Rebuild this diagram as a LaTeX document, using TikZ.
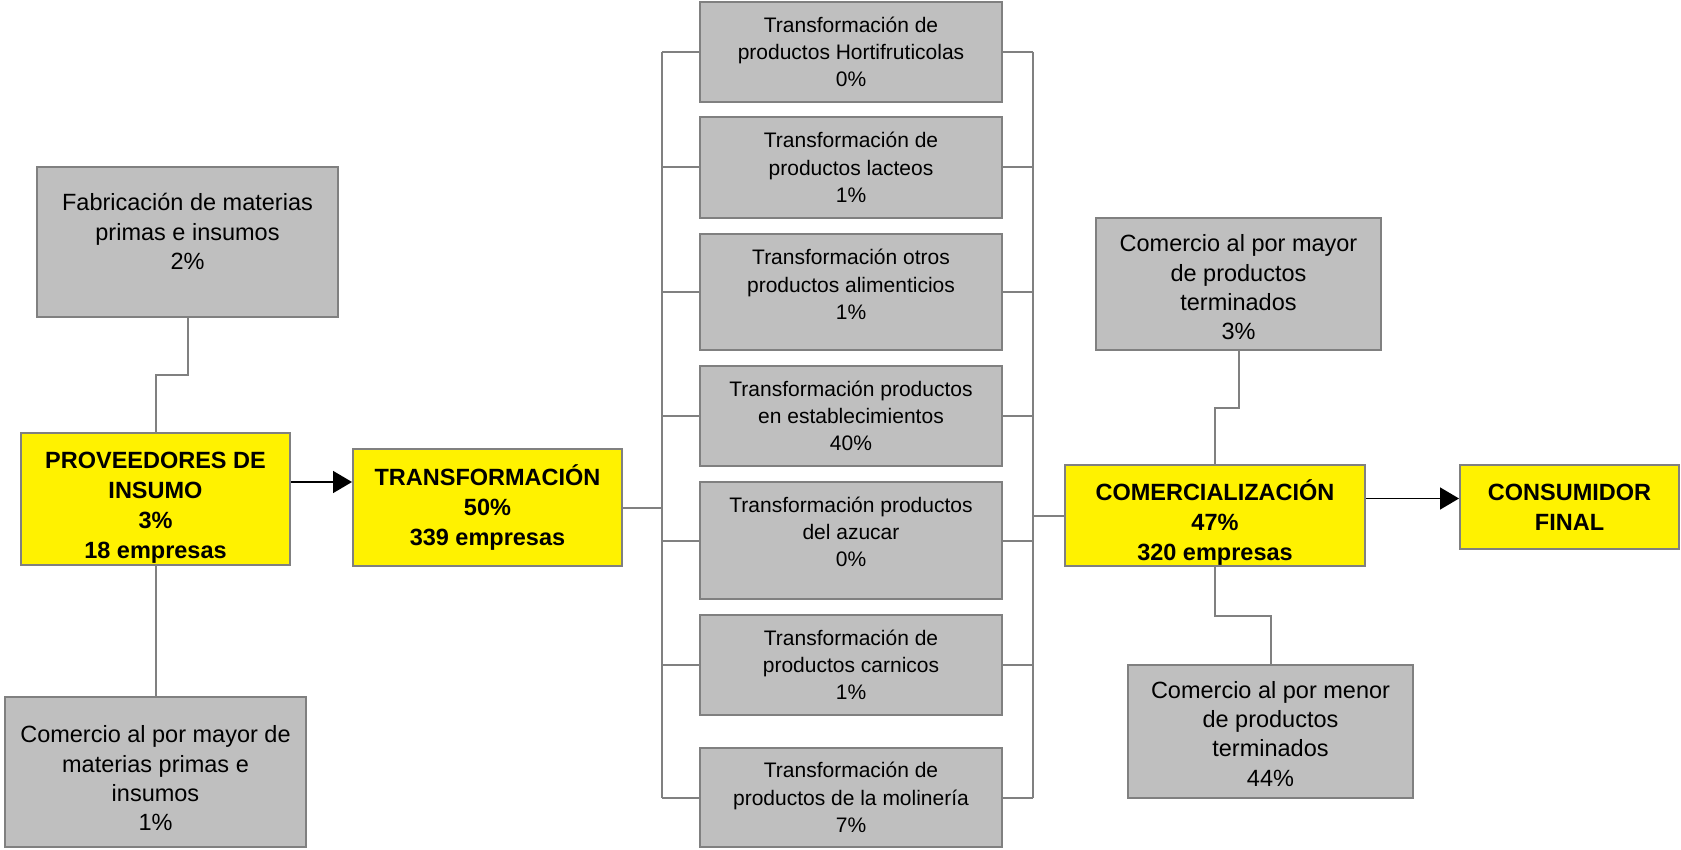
\documentclass[tikz,border=0pt]{standalone}
\usepackage{fontspec}
\setmainfont{Liberation Sans}
\usetikzlibrary{arrows.meta,calc}
\newcommand{\liftlines}[2]{\raisebox{#1}[\height][\depth]{%
  \begin{tabular}{@{}c@{}}#2\end{tabular}}}

\begin{document}
\begin{tikzpicture}[
  x=0.5pt, y=-0.5pt,
  every node/.style={align=center, inner sep=0pt},
  stage/.style={draw=black!50, fill=yellow, line width=1pt,
    font=\fontsize{11.75}{15}\selectfont\bfseries},
  sector/.style={draw=black!50, fill=black!25, line width=1pt,
    font=\fontsize{11.75}{14.7}\selectfont},
  subsector/.style={sector, minimum width=151pt,
    font=\fontsize{10.5}{13.6}\selectfont},
  link/.style={draw=black!50, line width=1pt},
  flow/.style={-{Triangle[length=9.5pt,width=11pt]}, line width=0.8pt}]
\useasboundingbox (0,0) rectangle (1681,850);
% proveedores
\node[sector, minimum width=150.5pt, minimum height=75pt] (fab) at (187.5,242)
  {\liftlines{3.75pt}{Fabricación de materias\\primas e insumos\\2\%}};
\node[stage, minimum width=134.5pt, minimum height=66pt] (prov) at (155.5,499)
  {\liftlines{-4.3pt}{PROVEEDORES DE\\INSUMO\\3\%\\18 empresas}};
\node[sector, minimum width=150.5pt, minimum height=75pt] (cmp) at (155.5,772)
  {\liftlines{-4.5pt}{Comercio al por mayor de\\materias primas e\\insumos\\1\%}};
% transformacion
\node[stage, minimum width=134.5pt, minimum height=58.5pt] (transf) at (487.5,507.5)
  {TRANSFORMACIÓN\\50\%\\339 empresas};
\node[subsector, minimum height=50pt] (t1) at (851,52)
  {Transformación de\\productos Hortifruticolas\\0\%};
\node[subsector, minimum height=50.5pt] (t2) at (851,167.5)
  {Transformación de\\productos lacteos\\1\%};
\node[subsector, minimum height=58pt] (t3) at (851,292)
  {\liftlines{2.7pt}{Transformación otros\\productos alimenticios\\1\%}};
\node[subsector, minimum height=50pt] (t4) at (851,416)
  {Transformación productos\\en establecimientos\\40\%};
\node[subsector, minimum height=58.5pt] (t5) at (851,540.5)
  {\liftlines{3.2pt}{Transformación productos\\del azucar\\0\%}};
\node[subsector, minimum height=50pt] (t6) at (851,665)
  {Transformación de\\productos carnicos\\1\%};
\node[subsector, minimum height=49.5pt] (t7) at (851,797.5)
  {Transformación de\\productos de la molinería\\7\%};
% comercializacion
\node[stage, minimum width=150pt, minimum height=50.5pt] (com) at (1215,515.5)
  {\liftlines{-4.3pt}{COMERCIALIZACIÓN\\47\%\\320 empresas}};
\node[stage, minimum width=109.5pt, minimum height=42pt] (cons) at (1569.5,507)
  {CONSUMIDOR\\FINAL};
\node[sector, minimum width=142.5pt, minimum height=66pt] (cmy) at (1238.5,284)
  {\liftlines{-3pt}{Comercio al por mayor\\de productos\\terminados\\3\%}};
\node[sector, minimum width=142.5pt, minimum height=66.5pt] (cme) at (1270.5,731.5)
  {\liftlines{-2.4pt}{Comercio al por menor\\de productos\\terminados\\44\%}};
% conectores
\coordinate (lbus) at (662,507.5);
\coordinate (rbus) at (1033,515.5);
\draw[link] (fab.south) |- ($(fab.south)!.5!(prov.north)$) -| (prov.north);
\draw[link] (prov.south) -- (cmp.north);
\draw[link] (cmy.south) |- ($(cmy.south)!.5!(com.north)$) -| (com.north);
\draw[link] (com.south) |- ($(com.south)!.5!(cme.north)$) -| (cme.north);
\draw[link] (transf.east) -- (lbus);
\draw[link] (rbus) -- (com.west);
\foreach \t in {t1,t2,t3,t4,t5,t6,t7} {
  \draw[link] (\t.west) -- (\t.west -| lbus);
  \draw[link] (\t.east) -- (\t.east -| rbus);
}
\draw[link] (t1.west -| lbus) -- (t7.west -| lbus);
\draw[link] (t1.east -| rbus) -- (t7.east -| rbus);
\draw[flow] ([yshift=8.5pt]prov.east) -- ([yshift=8.5pt]prov.east -| transf.west);
\draw[flow] ([yshift=8.5pt]com.east) -- ([yshift=8.5pt]com.east -| cons.west);
\end{tikzpicture}
\end{document}
